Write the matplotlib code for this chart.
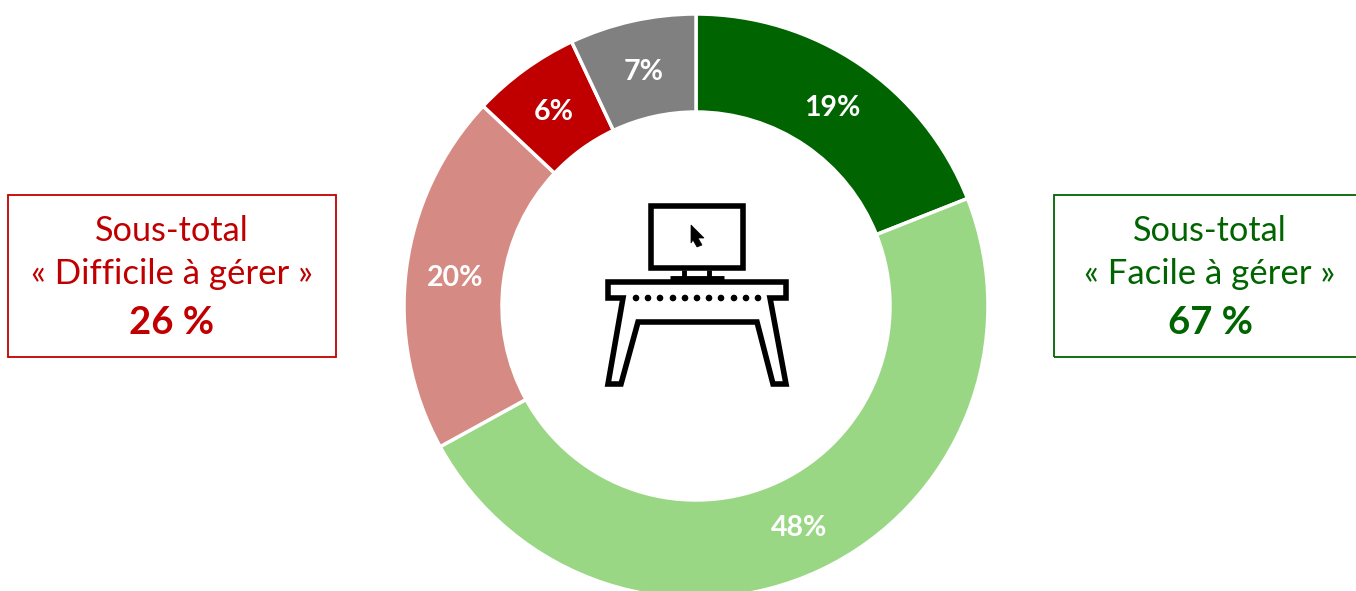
import matplotlib
matplotlib.use("Agg")
import matplotlib.pyplot as plt
from matplotlib.patches import Polygon, Rectangle, Circle

plt.rcParams['font.family'] = ['Lato', 'DejaVu Sans']

# values of the ring, clockwise from the top
values = [19, 48, 20, 6, 7]
colors = ['#006400', '#9AD785', '#D58B83', '#C00000', '#808080']

red = '#C00000'
green = '#006400'
left_lines = ['Sous-total', '« Difficile à gérer »', '26 %']
right_lines = ['Sous-total', '« Facile à gérer »', '67 %']

W, H = 1356, 591
fig = plt.figure(figsize=(W / 100, H / 100), dpi=100)
ax = fig.add_axes([0, 0, 1, 1])

# donut, one data unit = one pixel
wedges, texts, autotexts = ax.pie(
    values, colors=colors, startangle=90, counterclock=False,
    center=(696, H - 306), radius=292, autopct='%.0f%%', pctdistance=0.83,
    wedgeprops=dict(width=98, edgecolor='white', linewidth=2.5),
    textprops=dict(color='white', fontsize=20.5, fontweight='bold'),
)
# Lato sits a little high compared to the reference
for t in autotexts:
    x, y = t.get_position()
    t.set_position((x, y - 2.5))
ax.set_xlim(0, W)
ax.set_ylim(0, H)
ax.set_aspect('equal')
ax.axis('off')


def box(x0, x1, color, lines, cx):
    ax.add_patch(Rectangle((x0, H - 357), x1 - x0, 162, fill=False, edgecolor=color, linewidth=1.3))
    ax.text(cx, H - 231, lines[0], color=color, fontsize=24.7, ha='center', va='center')
    ax.text(cx, H - 274, lines[1], color=color, fontsize=25, ha='center', va='center')
    ax.text(cx, H - 322.5, lines[2], color=color, fontsize=27.5, fontweight='bold', ha='center', va='center')


box(8, 336, red, left_lines, 172)
box(1054, 1370, green, right_lines, 1210)


# desk icon, coordinates are pixels from the top left of the picture
def shape(points, **kw):
    ax.add_patch(Polygon([(x, H - y) for x, y in points], closed=True, joinstyle='miter', **kw))


line = dict(facecolor='white', edgecolor='black', linewidth=4.0)
shape([(651, 206), (743, 206), (743, 268), (651, 268)], **line)
ax.plot([684, 684], [H - 270, H - 280], color='black', lw=3.5, solid_capstyle='butt')
ax.plot([709, 709], [H - 270, H - 280], color='black', lw=3.5, solid_capstyle='butt')
ax.plot([670, 724], [H - 278, H - 278], color='black', lw=3.5, solid_capstyle='butt')
shape([(608, 282), (786, 282), (786, 298), (770, 298), (786, 384), (773, 384),
       (757, 322), (638, 322), (621, 384), (608, 384), (623, 298), (608, 298)], **line)
for x in [636, 648, 660, 673, 685, 697, 709, 721, 734, 746, 758]:
    ax.add_patch(Circle((x, H - 298), 2.6, color='black'))
shape([(691, 225), (704, 238), (698, 238), (702, 245), (697, 247), (693, 240), (691, 243)],
      facecolor='black', edgecolor='black', linewidth=0.5)

fig.savefig('out.png', dpi=100)
